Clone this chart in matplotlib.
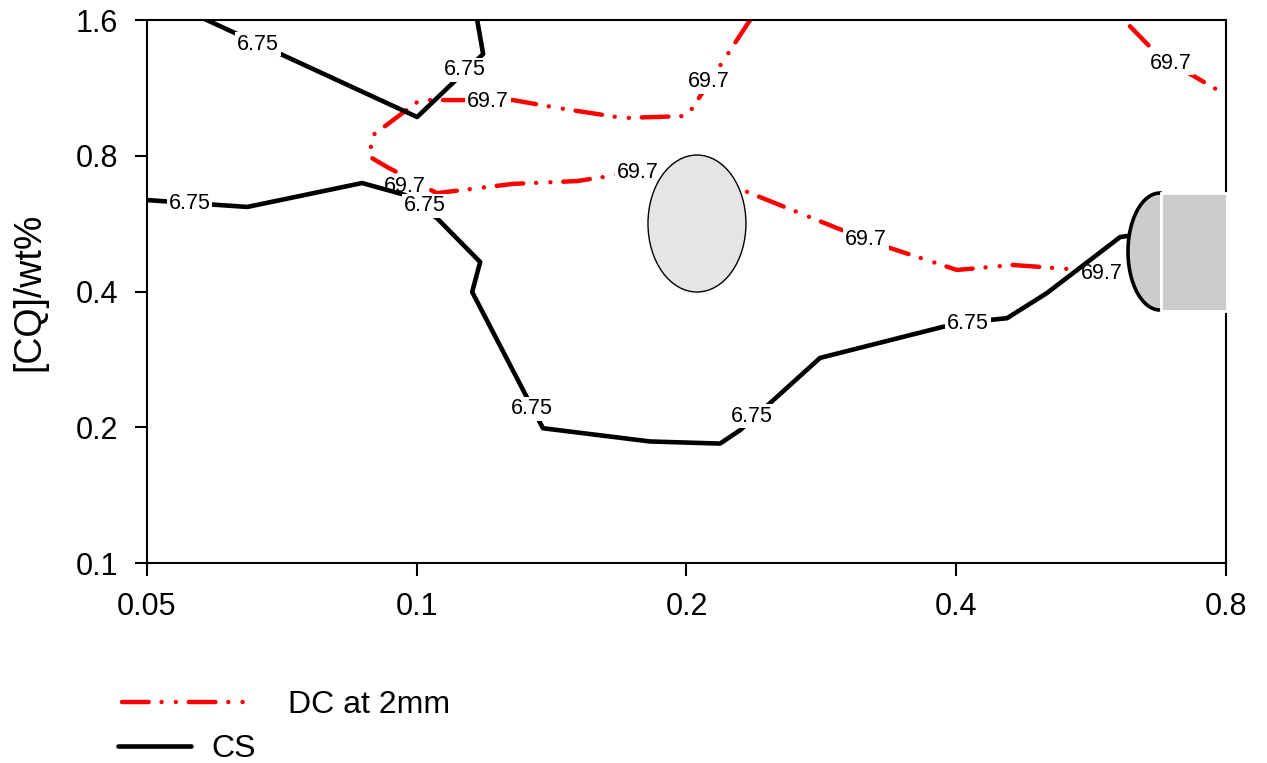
import numpy as np
import matplotlib.pyplot as plt
from matplotlib.patches import Ellipse, Polygon, Rectangle
from matplotlib.lines import Line2D

plt.rcParams['font.family'] = ['Liberation Sans', 'DejaVu Sans']

# axis ticks
xticks = [0.05, 0.1, 0.2, 0.4, 0.8]
yticks = [0.1, 0.2, 0.4, 0.8, 1.6]

# CS contour (6.75) - upper branch
cs_top_x = [0.0583, 0.1001, 0.1186, 0.1168]
cs_top_y = [1.6, 0.975, 1.345, 1.6]

# CS contour (6.75) - main branch
cs_main_x = [0.05, 0.0647, 0.0869, 0.0970, 0.1053, 0.1177, 0.1153, 0.1383, 0.1821,
             0.2180, 0.2295, 0.2819, 0.3866, 0.4362, 0.4557, 0.5051, 0.6093, 0.6203]
cs_main_y = [0.638, 0.616, 0.696, 0.655, 0.582, 0.465, 0.399, 0.199, 0.186,
             0.184, 0.197, 0.285, 0.334, 0.346, 0.349, 0.397, 0.528, 0.531]

# DC at 2mm contour (69.7) - main branch
dc_main_x = [0.2355, 0.2003, 0.1699, 0.1438, 0.1281, 0.1008, 0.0891, 0.0887, 0.0927,
             0.1053, 0.1281, 0.1509, 0.1673, 0.1883, 0.2295, 0.2944, 0.3374, 0.4008,
             0.4628, 0.5317, 0.5800]
dc_main_y = [1.6, 0.980, 0.970, 1.021, 1.063, 1.063, 0.885, 0.795, 0.755,
             0.661, 0.693, 0.703, 0.725, 0.744, 0.675, 0.553, 0.4995, 0.4465,
             0.458, 0.449, 0.4396]

# DC at 2mm contour (69.7) - top right branch
dc_tr_x = [0.625, 0.6666, 0.6946, 0.7426, 0.8]
dc_tr_y = [1.55, 1.359, 1.2845, 1.190, 1.091]

# contour label positions
cs_lab_x = [0.0665, 0.1132, 0.0558, 0.1021, 0.1345, 0.2367, 0.4123]
cs_lab_y = [1.4155, 1.240, 0.6285, 0.619, 0.2196, 0.2118, 0.3389]
dc_lab_x = [0.1201, 0.2119, 0.0970, 0.1766, 0.3172, 0.5817, 0.6946]
dc_lab_y = [1.058, 1.166, 0.6855, 0.7326, 0.5204, 0.4396, 1.2845]

fig = plt.figure(figsize=(12.67, 7.63), dpi=100)
ax = fig.add_axes([0.11602, 0.26212, 0.85162, 0.71166])

red_style = (0, (6.0, 2.9, 0.01, 3.2, 0.01, 2.9))
lab_box = dict(boxstyle='square,pad=0.08', fc='white', ec='none')

ax.plot(dc_main_x, dc_main_y, color='red', lw=3.2, linestyle=red_style,
        dash_capstyle='round', zorder=2)
ax.plot(dc_tr_x, dc_tr_y, color='red', lw=3.2, linestyle=red_style,
        dash_capstyle='round', zorder=2)
for x, y in zip(dc_lab_x, dc_lab_y):
    ax.text(x, y, '69.7', fontsize=15.5, ha='center', va='center', bbox=lab_box, zorder=2.6)

ax.plot(cs_top_x, cs_top_y, color='black', lw=3.3, zorder=3)
ax.plot(cs_main_x, cs_main_y, color='black', lw=3.3, zorder=3)
for x, y in zip(cs_lab_x, cs_lab_y):
    ax.text(x, y, '6.75', fontsize=15.5, ha='center', va='center', bbox=lab_box, zorder=3.6)

# grey shapes (axes fraction coordinates)
ax.add_patch(Ellipse((0.5097, 0.6252), 0.0908, 0.2523, transform=ax.transAxes,
                     fc='#e5e5e5', ec='black', lw=1, zorder=4))
t = np.linspace(np.pi / 2, 3 * np.pi / 2, 80)
hx = 0.93883 + 0.02966 * np.cos(t)
hy = 0.57366 + 0.10773 * np.sin(t)
ax.add_patch(Polygon(np.column_stack([hx, hy]), closed=True, transform=ax.transAxes,
                     fc='#cccccc', ec='none', zorder=4.5))
ax.plot(hx, hy, color='black', lw=2.6, transform=ax.transAxes, zorder=4.6)
ax.add_patch(Rectangle((0.93976, 0.4650), 0.0615, 0.2173, transform=ax.transAxes,
                       fc='#cccccc', ec='white', lw=2, zorder=5, clip_on=False))

ax.set_xscale('log')
ax.set_yscale('log')
ax.set_xlim(0.05, 0.8)
ax.set_ylim(0.1, 1.6)
ax.set_xticks(xticks)
ax.set_xticklabels([str(v) for v in xticks])
ax.set_yticks(yticks)
ax.set_yticklabels([str(v) for v in yticks])
ax.minorticks_off()
ax.tick_params(axis='both', direction='out', length=9, width=1.5, labelsize=22, pad=12)
for s in ax.spines.values():
    s.set_linewidth(1.5)

ax.set_ylabel('[CQ]/wt%', fontsize=27)
ax.yaxis.set_label_coords(-0.0927, 0.5)

# legend drawn below the axes
fig.add_artist(Line2D([0.0963, 0.1918], [0.0799, 0.0799], color='red', lw=3.2,
                      linestyle=red_style, dash_capstyle='round'))
fig.text(0.2273, 0.0655, 'DC at 2mm', fontsize=23, va='baseline')
fig.add_artist(Line2D([0.0935, 0.1510], [0.0223, 0.0223], color='black', lw=3.3,
                      solid_capstyle='round'))
fig.text(0.1665, 0.0079, 'CS', fontsize=23, va='baseline')

fig.savefig('out.png', dpi=100)
